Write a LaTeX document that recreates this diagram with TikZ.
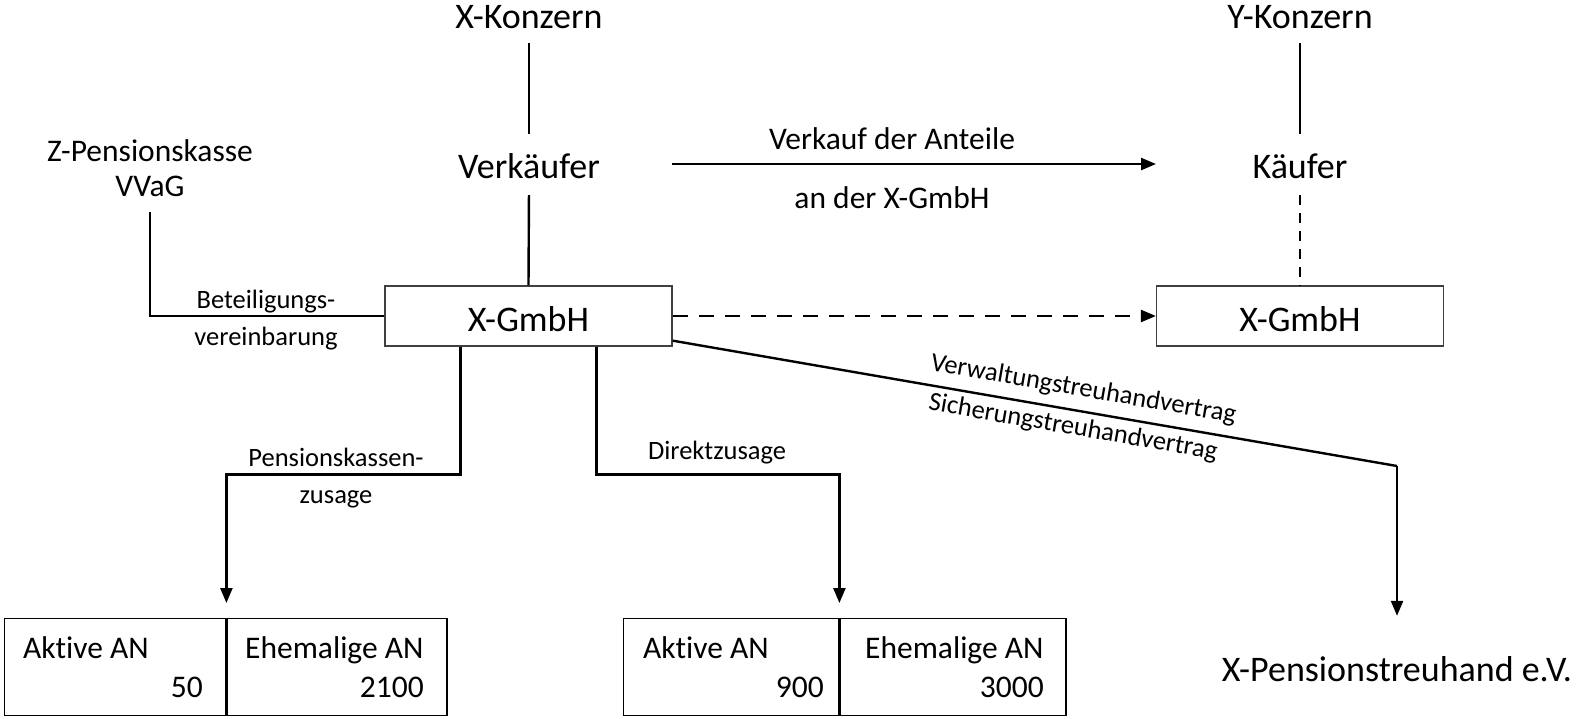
\documentclass[tikz,border=0pt]{standalone}
\usepackage{fontspec}
\setmainfont{Carlito}[Ligatures={NoCommon}]
\usetikzlibrary{arrows.meta,calc}
\begin{document}
\begin{tikzpicture}[x=1pt,y=-1pt,
  big/.style={font=\fontsize{36}{43}\selectfont, inner sep=0pt, text height=26pt, text depth=8pt},
  mid/.style={font=\fontsize{31.5}{36}\selectfont, inner sep=0pt, text height=22pt, text depth=7pt},
  small/.style={font=\fontsize{26.5}{31}\selectfont, inner sep=0pt},
  conn/.style={line width=2.4pt},
  arr/.style={conn, -{Triangle[length=15pt,width=12pt]}},
  hdash/.style={dash pattern=on 15pt off 11pt},
  vdash/.style={dash pattern=on 10pt off 8pt},
  gbox/.style={draw=black!75, line width=1.3pt, minimum width=287pt, minimum height=60pt,
    inner sep=0pt, text height=30pt, text depth=0pt, font=\fontsize{36}{43}\selectfont},
  cell/.style={draw, line width=1.4pt, minimum height=97pt, inner sep=0pt, anchor=north west},
]
\useasboundingbox (0,0) rectangle (1589,718);

% top level
\node[big, anchor=base] (xk) at (529,28) {X-Konzern};
\node[big, anchor=base] (vk) at (529,178) {Verkäufer};
\node[gbox] (xg) at (528.5,316) {X-GmbH};
\node[big, anchor=base] (yk) at (1300,28) {Y-Konzern};
\node[big, anchor=base] (ka) at (1300,178) {Käufer};
\node[gbox] (yg) at (1300,316) {X-GmbH};

\node[mid, anchor=base] (zp1) at (150,161) {Z-Pensionskasse};
\node[mid, anchor=base] (zp2) at (150,196) {VVaG};

\draw[conn, shorten <=7pt, shorten >=18pt] (xk.south) -- (vk.north);
\draw[conn, shorten <=9pt] (vk.south) -- (xg.north);
\draw[conn, shorten <=7pt, shorten >=18pt] (yk.south) -- (ka.north);
\draw[conn, vdash, shorten <=9pt] (ka.south) -- (yg.north);

% Z-Pensionskasse
\draw[conn, shorten <=9pt] (zp2.south) |- (xg.west);
\node[small, anchor=base] (bv1) at (266,308) {Beteiligungs-};
\node[small, anchor=base] (bv2) at (266,345) {vereinbarung};

% sale
\coordinate (va) at (672,164);
\coordinate (vb) at (1156,164);
\draw[arr] (va) -- (vb);
\node[mid, anchor=base] (vt1) at (892,149) {Verkauf der Anteile};
\node[mid, anchor=base] (vt2) at (892,208) {an der X-GmbH};

\draw[arr, hdash] (xg.east) -- (yg.west);

% tables
\node[cell, minimum width=221pt] (c1) at (4,618) {};
\node[cell, minimum width=220pt] (c2) at (c1.north east) {};
\node[cell, minimum width=215pt] (c3) at (623,618) {};
\node[cell, minimum width=226pt] (c4) at (c3.north east) {};

\node[mid, anchor=base west] (t1a) at (23,658) {Aktive AN};
\node[mid, anchor=base east] (t1b) at (203,697) {50};
\node[mid, anchor=base west] (t2a) at (245,658) {Ehemalige AN};
\node[mid, anchor=base east] (t2b) at (424,697) {2100};
\node[mid, anchor=base west] (t3a) at (643,658) {Aktive AN};
\node[mid, anchor=base east] (t3b) at (824,697) {900};
\node[mid, anchor=base west] (t4a) at (865,658) {Ehemalige AN};
\node[mid, anchor=base east] (t4b) at (1044,697) {3000};

% branches
\draw[arr, shorten >=15pt] ($(xg.south west)+(76,0)$) -- ++(0,128) -| (c1.north east);
\node[small, anchor=base] (pk1) at (336,466) {Pensionskassen-};
\node[small, anchor=base] (pk2) at (336,503) {zusage};

\draw[arr, shorten >=15pt] ($(xg.south west)+(212,0)$) -- ++(0,128) -| (c3.north east);
\node[small, anchor=base] (dz) at (717,459) {Direktzusage};

% trust
\node[big, anchor=base] (pt) at (1397,681) {X-Pensionstreuhand e.V.};
\coordinate (d0) at ($(xg.south east)+(0,-6)$);
\coordinate (d1) at (1397,466);
\draw[conn] (d0) -- (d1);
\draw[arr, shorten >=39pt] (d1) -- (pt.north);
\path (d0) -- (d1)
  node[small, sloped, pos=0.562, above=10pt] (vw) {Verwaltungstreuhandvertrag}
  node[small, sloped, pos=0.557, below=6pt] (sv) {Sicherungstreuhandvertrag};
\end{tikzpicture}
\end{document}
